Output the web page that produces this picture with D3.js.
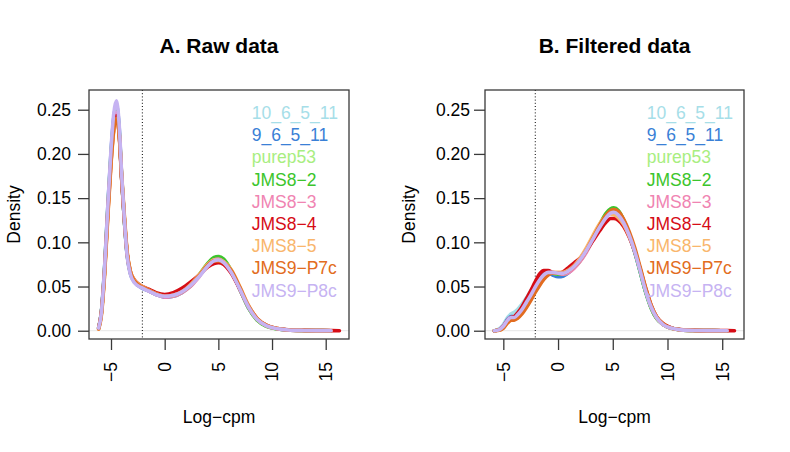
<!DOCTYPE html>
<html><head><meta charset="utf-8">
<script src="https://cdn.jsdelivr.net/npm/d3@7"></script>
<style>
html,body{margin:0;padding:0;background:#fff;}
text{font-family:"Liberation Sans",Arial,Helvetica,sans-serif;}
</style></head>
<body><svg id="chart" width="790" height="452"></svg>
<script>
// ---------- data ----------
const sampleNames = ["10_6_5_11","9_6_5_11","purep53","JMS8\u22122","JMS8\u22123","JMS8\u22124","JMS8\u22125","JMS9\u2212P7c","JMS9\u2212P8c"];
const sampleColors = ["#A6DEE8","#3A80D6","#A8EE80","#3CC52C","#F084B2","#D60C16","#F9B66C","#E26C20","#C6B3F2"];
const panelTitles = ["A. Raw data","B. Filtered data"];
const xTicks = [-5,0,5,10,15];
const yTicks = [0,0.05,0.10,0.15,0.20,0.25];
const cutoff = -2.08;

const rawX = [-6.15,-5.9,-5.6,-5.3,-5.0,-4.75,-4.5,-4.25,-4.0,-3.75,-3.5,-3.2,-2.8,-2.2,-1.5,-0.8,0,0.8,1.6,2.4,3.2,4.0,4.6,5.0,5.5,6.2,7.0,7.8,8.6,9.5,10.5,11.5,13,14.5,15.5,16.28];
const raw_10_6_5_11 = [0.003,0.021,0.07,0.138,0.2,0.238,0.252,0.23,0.172,0.124,0.086,0.065,0.055,0.049,0.045,0.041,0.039,0.040,0.044,0.051,0.062,0.074,0.080,0.081,0.078,0.067,0.047,0.027,0.013,0.0055,0.0022,0.0009,0.0003,0.0001,0,null];
const raw_9_6_5_11 = [0.003,0.021,0.071,0.14,0.202,0.24,0.255,0.232,0.173,0.124,0.086,0.065,0.055,0.049,0.045,0.041,0.038,0.039,0.043,0.051,0.062,0.074,0.081,0.082,0.079,0.067,0.047,0.026,0.013,0.0055,0.0022,0.0009,0.0003,0.0001,0,null];
const raw_purep53 = [0.003,0.02,0.069,0.137,0.198,0.235,0.25,0.228,0.172,0.125,0.087,0.066,0.056,0.05,0.046,0.042,0.039,0.040,0.044,0.051,0.062,0.075,0.082,0.083,0.080,0.068,0.047,0.026,0.012,0.005,0.002,0.0008,0.0003,0.0001,0,null];
const raw_JMS8_2 = [0.003,0.02,0.068,0.136,0.197,0.234,0.248,0.227,0.171,0.124,0.087,0.066,0.056,0.05,0.046,0.042,0.039,0.040,0.044,0.051,0.063,0.076,0.083,0.084,0.081,0.068,0.047,0.026,0.012,0.005,0.002,0.0008,0.0003,0.0001,0,null];
const raw_JMS8_3 = [0.003,0.02,0.068,0.135,0.196,0.233,0.247,0.226,0.171,0.125,0.087,0.066,0.056,0.05,0.045,0.041,0.038,0.039,0.043,0.050,0.061,0.074,0.080,0.081,0.078,0.067,0.047,0.027,0.013,0.0055,0.0022,0.0009,0.0003,0.0001,0,null];
const raw_JMS8_4 = [0.003,0.02,0.067,0.133,0.192,0.228,0.243,0.224,0.17,0.125,0.088,0.067,0.057,0.051,0.047,0.043,0.041,0.043,0.048,0.055,0.063,0.072,0.076,0.077,0.075,0.065,0.047,0.028,0.014,0.006,0.0025,0.001,0.0004,0.0002,0.0001,0];
const raw_JMS8_5 = [0.002,0.017,0.062,0.128,0.188,0.225,0.238,0.225,0.175,0.13,0.09,0.068,0.057,0.051,0.046,0.042,0.039,0.040,0.044,0.052,0.063,0.075,0.080,0.080,0.078,0.069,0.050,0.029,0.014,0.006,0.0024,0.0009,0.0003,0.0001,0,null];
const raw_JMS9_P7c = [0.002,0.018,0.064,0.13,0.19,0.227,0.24,0.224,0.173,0.128,0.089,0.067,0.056,0.05,0.046,0.042,0.039,0.040,0.044,0.051,0.062,0.074,0.079,0.079,0.077,0.068,0.049,0.028,0.014,0.006,0.0024,0.0009,0.0003,0.0001,0,null];
const raw_JMS9_P8c = [0.003,0.02,0.07,0.14,0.205,0.245,0.26,0.235,0.175,0.125,0.085,0.064,0.054,0.049,0.045,0.041,0.039,0.040,0.044,0.051,0.061,0.073,0.079,0.080,0.077,0.066,0.047,0.027,0.013,0.0055,0.0022,0.0009,0.0003,0.0001,0,null];

const filtX = [-5.82,-5.4,-5.0,-4.6,-4.3,-4.0,-3.7,-3.3,-2.9,-2.5,-2.1,-1.7,-1.3,-0.9,-0.5,0,0.5,1.0,1.5,2.0,2.6,3.2,3.8,4.4,4.8,5.1,5.5,6.0,6.5,7.0,7.5,8.0,8.5,9.0,9.6,10.3,11.2,12.5,14,15.45,16.12];
const filt_10_6_5_11 = [0,0.002,0.007,0.015,0.019,0.021,0.024,0.030,0.037,0.045,0.053,0.060,0.064,0.066,0.065,0.064,0.064,0.067,0.072,0.079,0.090,0.104,0.118,0.130,0.135,0.136,0.132,0.122,0.107,0.089,0.067,0.044,0.026,0.014,0.007,0.003,0.001,0.0003,0.0001,0,null];
const filt_9_6_5_11 = [0,0.001,0.005,0.013,0.016,0.016,0.019,0.025,0.033,0.041,0.050,0.058,0.064,0.065,0.063,0.061,0.062,0.066,0.072,0.079,0.090,0.104,0.118,0.130,0.135,0.136,0.133,0.123,0.108,0.089,0.067,0.044,0.026,0.014,0.007,0.003,0.001,0.0003,0.0001,0,null];
const filt_purep53 = [0,0.001,0.004,0.011,0.014,0.014,0.017,0.023,0.031,0.039,0.048,0.056,0.062,0.065,0.065,0.064,0.064,0.067,0.072,0.079,0.091,0.105,0.119,0.131,0.136,0.137,0.134,0.124,0.109,0.090,0.068,0.045,0.026,0.014,0.007,0.003,0.001,0.0003,0.0001,0,null];
const filt_JMS8_2 = [0,0.001,0.004,0.011,0.014,0.014,0.017,0.023,0.031,0.039,0.048,0.056,0.062,0.065,0.065,0.064,0.064,0.067,0.072,0.079,0.091,0.105,0.120,0.133,0.138,0.139,0.136,0.125,0.109,0.090,0.067,0.044,0.026,0.014,0.007,0.003,0.001,0.0003,0.0001,0,null];
const filt_JMS8_3 = [0,0.001,0.005,0.012,0.015,0.015,0.018,0.024,0.032,0.040,0.049,0.057,0.063,0.066,0.066,0.065,0.064,0.066,0.071,0.078,0.089,0.103,0.117,0.129,0.134,0.135,0.133,0.124,0.109,0.091,0.069,0.046,0.027,0.015,0.007,0.003,0.001,0.0003,0.0001,0,null];
const filt_JMS8_4 = [0,0.001,0.005,0.012,0.015,0.016,0.020,0.027,0.036,0.045,0.055,0.064,0.068,0.068,0.066,0.065,0.067,0.072,0.077,0.082,0.091,0.102,0.113,0.123,0.127,0.127,0.125,0.118,0.106,0.090,0.070,0.048,0.029,0.016,0.008,0.0035,0.0012,0.0004,0.0001,0.0001,0];
const filt_JMS8_5 = [0,0.0005,0.003,0.009,0.012,0.013,0.015,0.020,0.027,0.035,0.044,0.052,0.059,0.064,0.066,0.066,0.066,0.069,0.074,0.082,0.094,0.108,0.121,0.130,0.132,0.131,0.128,0.120,0.107,0.091,0.070,0.047,0.028,0.015,0.007,0.003,0.001,0.0003,0.0001,0,null];
const filt_JMS9_P7c = [0,0.0005,0.003,0.009,0.012,0.012,0.014,0.019,0.026,0.034,0.043,0.051,0.058,0.063,0.065,0.065,0.065,0.068,0.073,0.080,0.091,0.105,0.119,0.131,0.136,0.137,0.135,0.126,0.112,0.094,0.072,0.049,0.029,0.016,0.008,0.003,0.001,0.0003,0.0001,0,null];
const filt_JMS9_P8c = [0,0.001,0.005,0.012,0.015,0.015,0.018,0.024,0.032,0.040,0.049,0.057,0.063,0.066,0.066,0.065,0.065,0.068,0.073,0.080,0.091,0.104,0.117,0.128,0.133,0.134,0.131,0.122,0.108,0.090,0.068,0.045,0.027,0.015,0.007,0.003,0.001,0.0003,0.0001,0,null];

const rawSeries = [raw_10_6_5_11,raw_9_6_5_11,raw_purep53,raw_JMS8_2,raw_JMS8_3,raw_JMS8_4,raw_JMS8_5,raw_JMS9_P7c,raw_JMS9_P8c];
const filtSeries = [filt_10_6_5_11,filt_9_6_5_11,filt_purep53,filt_JMS8_2,filt_JMS8_3,filt_JMS8_4,filt_JMS8_5,filt_JMS9_P7c,filt_JMS9_P8c];

// ---------- layout ----------
const panels = [
  {title: panelTitles[0], xs: rawX, series: rawSeries, left: 89, right: 349, xdom: [-7.05, 17.17], densX: 19.5, tickR: 71, legX: 251.7},
  {title: panelTitles[1], xs: filtX, series: filtSeries, left: 485, right: 744, xdom: [-6.674, 16.99], densX: 414.5, tickR: 470, legX: 646.7}
];
const boxTop = 90, boxBottom = 339;
const ydom = [-0.00936, 0.2723];
const svg = d3.select("#chart");
const FS = 17.5;

panels.forEach(p => {
  const g = svg.append("g");
  const x = d3.scaleLinear().domain(p.xdom).range([p.left, p.right]);
  const y = d3.scaleLinear().domain(ydom).range([boxBottom, boxTop]);
  const cx = (p.left + p.right) / 2;

  g.append("text").attr("x", cx).attr("y", 53.3).attr("text-anchor", "middle")
    .style("font-size", "21px").style("font-weight", "bold").attr("fill", "#000").text(p.title);

  g.append("line").attr("x1", p.left).attr("x2", p.right).attr("y1", y(0)).attr("y2", y(0))
    .attr("stroke", "#e6e6e6").attr("stroke-width", 1);

  g.append("line").attr("x1", x(cutoff)).attr("x2", x(cutoff)).attr("y1", boxTop).attr("y2", boxBottom)
    .attr("stroke", "#000").attr("stroke-width", 1).attr("stroke-dasharray", "1,2.2");

  const line = d3.line().defined(d => d[1] !== null).x(d => x(d[0])).y(d => y(d[1])).curve(d3.curveMonotoneX);
  p.series.forEach((vals, i) => {
    const pts = p.xs.map((xv, j) => [xv, vals[j]]);
    g.append("path").attr("d", line(pts)).attr("fill", "none")
      .attr("stroke", sampleColors[i]).attr("stroke-width", 3.6)
      .attr("stroke-linecap", "round").attr("stroke-linejoin", "round");
  });

  g.append("rect").attr("x", p.left).attr("y", boxTop).attr("width", p.right - p.left).attr("height", boxBottom - boxTop)
    .attr("fill", "none").attr("stroke", "#3a3a3a").attr("stroke-width", 1.3);

  const xa = g.append("g").attr("transform", `translate(0,${boxBottom})`)
    .call(d3.axisBottom(x).tickValues(xTicks).tickSize(11).tickSizeOuter(0).tickFormat(() => ""));
  xa.select(".domain").remove();
  xa.selectAll(".tick line").attr("stroke", "#3a3a3a").attr("stroke-width", 1.3);
  xTicks.forEach(t => {
    const tx = x(t) + 6.3, ty = 362;
    g.append("text").attr("transform", `translate(${tx},${ty}) rotate(-90)`)
      .attr("text-anchor", "end").style("font-size", FS + "px").attr("fill", "#000")
      .text(d3.format("d")(t).replace("-", "\u2212"));
  });

  const ya = g.append("g").attr("transform", `translate(${p.left},0)`)
    .call(d3.axisLeft(y).tickValues(yTicks).tickSize(11).tickSizeOuter(0).tickFormat(() => ""));
  ya.select(".domain").remove();
  ya.selectAll(".tick line").attr("stroke", "#3a3a3a").attr("stroke-width", 1.3);
  yTicks.forEach(t => {
    g.append("text").attr("x", p.tickR).attr("y", y(t)).attr("dy", "0.36em")
      .attr("text-anchor", "end").style("font-size", FS + "px").attr("fill", "#000")
      .text(d3.format(".2f")(t));
  });

  g.append("text").attr("transform", `translate(${p.densX},${(boxTop + boxBottom) / 2}) rotate(-90)`)
    .attr("text-anchor", "middle").style("font-size", FS + "px").attr("fill", "#000").text("Density");
  g.append("text").attr("x", cx).attr("y", 423.3).attr("text-anchor", "middle")
    .style("font-size", FS + "px").attr("fill", "#000").text("Log\u2212cpm");

  sampleNames.forEach((n, i) => {
    g.append("text").attr("x", p.legX).attr("y", 112.7 + i * 22.2).attr("dy", "0.36em")
      .style("font-size", FS + "px").attr("fill", sampleColors[i]).text(n);
  });
});
</script></body></html>
